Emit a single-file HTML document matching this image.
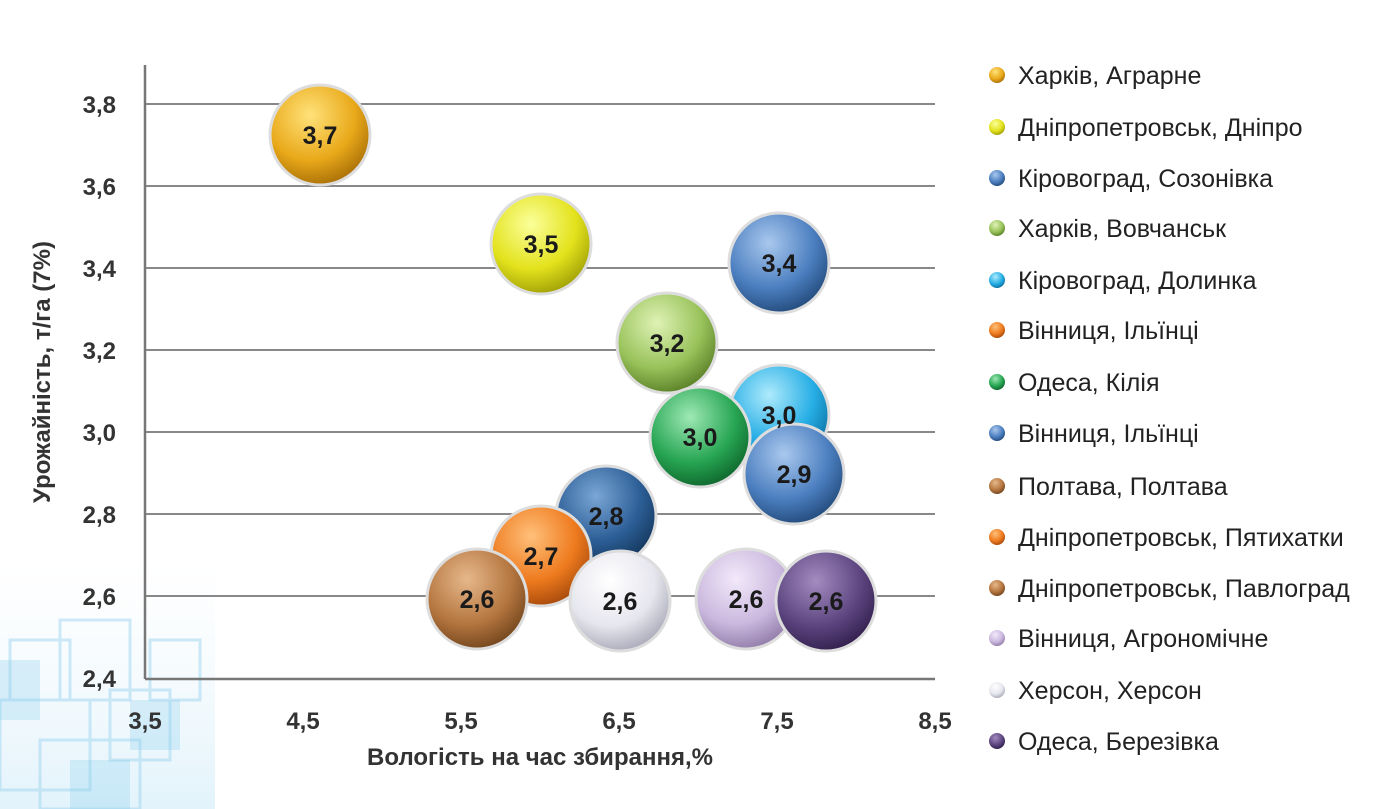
<!DOCTYPE html>
<html><head><meta charset="utf-8"><style>
body{margin:0;background:#fff;}
svg{display:block;}
.t{font-family:"Liberation Sans Narrow","Liberation Sans",sans-serif;font-weight:bold;fill:#333;font-size:24px;}
.lg{font-family:"Liberation Sans Narrow","Liberation Sans",sans-serif;fill:#222;font-size:25px;}
.b{font-family:"Liberation Sans",sans-serif;font-weight:bold;fill:#1a1a1a;font-size:25px;text-anchor:middle;}
</style></head><body>
<svg width="1373" height="809" viewBox="0 0 1373 809" xmlns="http://www.w3.org/2000/svg">
<defs>
<linearGradient id="bg" x1="0" y1="0" x2="0" y2="1"><stop offset="0" stop-color="#dff1fb" stop-opacity="0"/><stop offset="1" stop-color="#bfe4f6"/></linearGradient>
</defs>
<rect x="0" y="560" width="215" height="249" fill="url(#bg)" opacity="0.45"/>
<g fill="none" stroke="#9fd6f0" stroke-width="3" opacity="0.5">
<rect x="10" y="640" width="60" height="60"/><rect x="60" y="620" width="70" height="80"/>
<rect x="0" y="700" width="90" height="90"/><rect x="110" y="690" width="60" height="70"/>
<rect x="150" y="640" width="50" height="60"/><rect x="40" y="740" width="100" height="69"/>
</g>
<g fill="#8fd0ee" opacity="0.3"><rect x="0" y="660" width="40" height="60"/><rect x="130" y="700" width="50" height="50"/><rect x="70" y="760" width="60" height="49"/></g>
<g stroke="#888" stroke-width="2">
<line x1="145" y1="104" x2="935" y2="104"/><line x1="145" y1="186" x2="935" y2="186"/>
<line x1="145" y1="268" x2="935" y2="268"/><line x1="145" y1="350" x2="935" y2="350"/>
<line x1="145" y1="432" x2="935" y2="432"/><line x1="145" y1="514" x2="935" y2="514"/>
<line x1="145" y1="596" x2="935" y2="596"/>
</g>
<g stroke="#777" stroke-width="2.5"><line x1="145" y1="65" x2="145" y2="679"/><line x1="145" y1="679" x2="935" y2="679"/></g>
<g class="t" text-anchor="end">
<text x="116" y="113">3,8</text><text x="116" y="195">3,6</text><text x="116" y="277">3,4</text>
<text x="116" y="359">3,2</text><text x="116" y="441">3,0</text><text x="116" y="523">2,8</text>
<text x="116" y="605">2,6</text><text x="116" y="687">2,4</text></g>
<g class="t" text-anchor="middle">
<text x="145" y="729">3,5</text><text x="303" y="729">4,5</text><text x="461" y="729">5,5</text>
<text x="619" y="729">6,5</text><text x="777" y="729">7,5</text><text x="935" y="729">8,5</text></g>
<text class="t" x="540" y="765" text-anchor="middle">Вологість на час збирання,%</text>
<text class="t" transform="translate(50,372) rotate(-90)" text-anchor="middle">Урожайність, т/га (7%)</text>
<defs>
<radialGradient id="g1" cx="0.4" cy="0.3" r="0.75"><stop offset="0" stop-color="#ffe27a"/><stop offset="0.6" stop-color="#e9a91a"/><stop offset="1" stop-color="#a36a05"/></radialGradient>
<radialGradient id="g2" cx="0.4" cy="0.3" r="0.75"><stop offset="0" stop-color="#fbff9a"/><stop offset="0.6" stop-color="#e3e21c"/><stop offset="1" stop-color="#9a9a05"/></radialGradient>
<radialGradient id="g3" cx="0.4" cy="0.3" r="0.75"><stop offset="0" stop-color="#a9c8ee"/><stop offset="0.6" stop-color="#4c7fc0"/><stop offset="1" stop-color="#1f4676"/></radialGradient>
<radialGradient id="g4" cx="0.4" cy="0.3" r="0.75"><stop offset="0" stop-color="#dff2b5"/><stop offset="0.6" stop-color="#98c25a"/><stop offset="1" stop-color="#557a23"/></radialGradient>
<radialGradient id="g5" cx="0.4" cy="0.3" r="0.75"><stop offset="0" stop-color="#aeeafc"/><stop offset="0.6" stop-color="#26aee5"/><stop offset="1" stop-color="#0a6a9a"/></radialGradient>
<radialGradient id="g6" cx="0.4" cy="0.3" r="0.75"><stop offset="0" stop-color="#9ee8b5"/><stop offset="0.6" stop-color="#27a653"/><stop offset="1" stop-color="#0d6129"/></radialGradient>
<radialGradient id="g7" cx="0.4" cy="0.3" r="0.75"><stop offset="0" stop-color="#7aa6d6"/><stop offset="0.6" stop-color="#2c5e96"/><stop offset="1" stop-color="#123458"/></radialGradient>
<radialGradient id="g8" cx="0.4" cy="0.3" r="0.75"><stop offset="0" stop-color="#ffc07a"/><stop offset="0.6" stop-color="#ee7a1e"/><stop offset="1" stop-color="#a0450a"/></radialGradient>
<radialGradient id="g9" cx="0.4" cy="0.3" r="0.75"><stop offset="0" stop-color="#e6b88a"/><stop offset="0.6" stop-color="#b57640"/><stop offset="1" stop-color="#6d4119"/></radialGradient>
<radialGradient id="g10" cx="0.4" cy="0.3" r="0.75"><stop offset="0" stop-color="#ffffff"/><stop offset="0.6" stop-color="#e6e6ee"/><stop offset="1" stop-color="#a4a4b4"/></radialGradient>
<radialGradient id="g11" cx="0.4" cy="0.3" r="0.75"><stop offset="0" stop-color="#f2e9fa"/><stop offset="0.6" stop-color="#cbb8de"/><stop offset="1" stop-color="#8b77a3"/></radialGradient>
<radialGradient id="g12" cx="0.4" cy="0.3" r="0.75"><stop offset="0" stop-color="#a48cc0"/><stop offset="0.6" stop-color="#5d4580"/><stop offset="1" stop-color="#2e1c48"/></radialGradient>
</defs>
<g stroke="#ddd" stroke-width="3">
<circle cx="320" cy="135" r="50" fill="url(#g1)"/>
<circle cx="541" cy="244" r="50" fill="url(#g2)"/>
<circle cx="779" cy="263" r="50" fill="url(#g3)"/>
<circle cx="667" cy="343" r="50" fill="url(#g4)"/>
<circle cx="779" cy="415" r="50" fill="url(#g5)"/>
<circle cx="700" cy="437" r="50" fill="url(#g6)"/>
<circle cx="794" cy="474" r="50" fill="url(#g3)"/>
<circle cx="606" cy="516" r="50" fill="url(#g7)"/>
<circle cx="541" cy="556" r="50" fill="url(#g8)"/>
<circle cx="477" cy="599" r="50" fill="url(#g9)"/>
<circle cx="620" cy="601" r="50" fill="url(#g10)"/>
<circle cx="746" cy="599" r="50" fill="url(#g11)"/>
<circle cx="826" cy="601" r="50" fill="url(#g12)"/>
</g>
<g class="b">
<text x="320" y="144">3,7</text><text x="541" y="253">3,5</text><text x="779" y="272">3,4</text>
<text x="667" y="352">3,2</text><text x="779" y="424">3,0</text><text x="700" y="446">3,0</text>
<text x="794" y="483">2,9</text><text x="606" y="525">2,8</text><text x="541" y="565">2,7</text>
<text x="477" y="608">2,6</text><text x="620" y="610">2,6</text><text x="746" y="608">2,6</text>
<text x="826" y="610">2,6</text></g>
<g>
<circle cx="997" cy="75" r="8" fill="url(#g1)"/><circle cx="997" cy="127" r="8" fill="url(#g2)"/>
<circle cx="997" cy="178" r="8" fill="url(#g3)"/><circle cx="997" cy="228" r="8" fill="url(#g4)"/>
<circle cx="997" cy="280" r="8" fill="url(#g5)"/><circle cx="997" cy="330" r="8" fill="url(#g8)"/>
<circle cx="997" cy="382" r="8" fill="url(#g6)"/><circle cx="997" cy="433" r="8" fill="url(#g3)"/>
<circle cx="997" cy="486" r="8" fill="url(#g9)"/><circle cx="997" cy="537" r="8" fill="url(#g8)"/>
<circle cx="997" cy="588" r="8" fill="url(#g9)"/><circle cx="997" cy="638" r="8" fill="url(#g11)"/>
<circle cx="997" cy="690" r="8" fill="url(#g10)"/><circle cx="997" cy="741" r="8" fill="url(#g12)"/>
</g>
<g class="lg">
<text x="1018" y="84">Харків, Аграрне</text>
<text x="1018" y="136">Дніпропетровськ, Дніпро</text>
<text x="1018" y="187">Кіровоград, Созонівка</text>
<text x="1018" y="237">Харків, Вовчанськ</text>
<text x="1018" y="289">Кіровоград, Долинка</text>
<text x="1018" y="339">Вінниця, Ільїнці</text>
<text x="1018" y="391">Одеса,  Кілія</text>
<text x="1018" y="442">Вінниця, Ільїнці</text>
<text x="1018" y="495">Полтава,  Полтава</text>
<text x="1018" y="546">Дніпропетровськ, Пятихатки</text>
<text x="1018" y="597">Дніпропетровськ, Павлоград</text>
<text x="1018" y="647">Вінниця, Агрономічне</text>
<text x="1018" y="699">Херсон,  Херсон</text>
<text x="1018" y="750">Одеса,  Березівка</text>
</g>
</svg>
</body></html>
